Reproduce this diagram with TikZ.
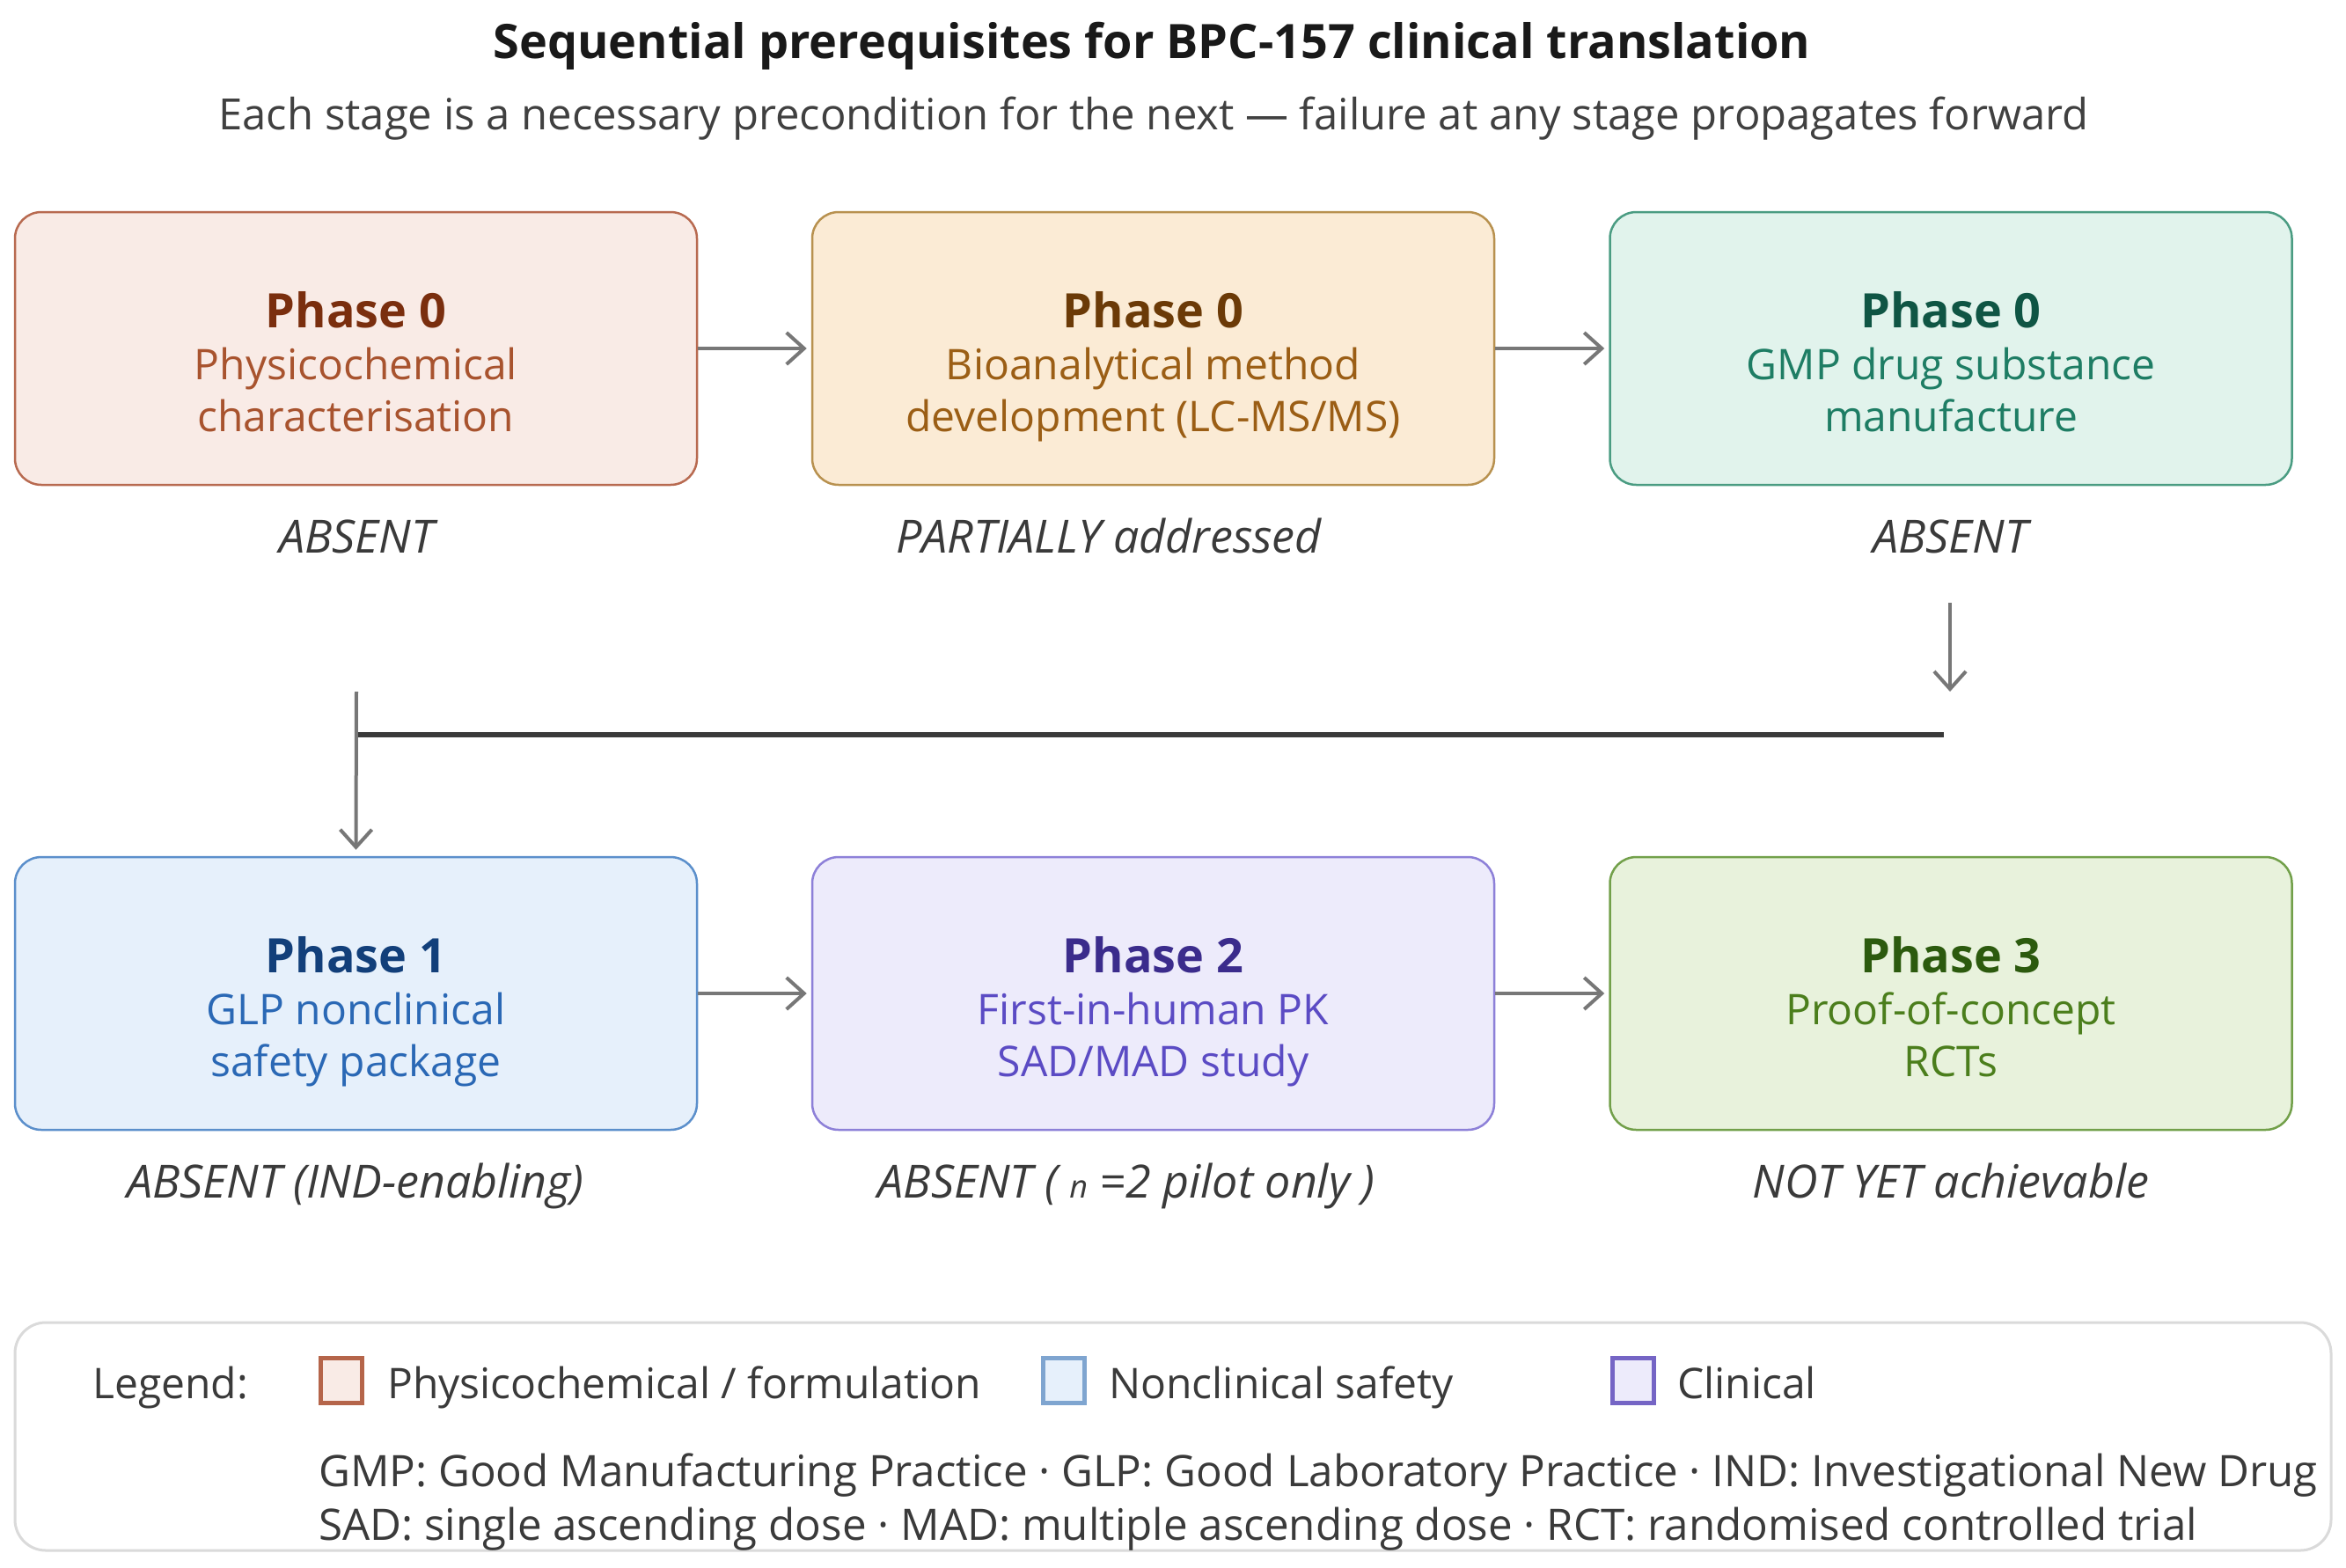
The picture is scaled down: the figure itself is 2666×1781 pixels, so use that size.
\documentclass[tikz,border=0pt]{standalone}
\usepackage{fontspec}
\setmainfont{Open Sans}
\usetikzlibrary{arrows.meta}
\definecolor{fA}{HTML}{F9EBE6}\definecolor{dA}{HTML}{B86A50}\definecolor{tA}{HTML}{7A2E0E}\definecolor{bA}{HTML}{A8532E}
\definecolor{fB}{HTML}{FBEBD5}\definecolor{dB}{HTML}{B8914F}\definecolor{tB}{HTML}{6B3A07}\definecolor{bB}{HTML}{9B5E15}
\definecolor{fC}{HTML}{E1F3EC}\definecolor{dC}{HTML}{4A9C82}\definecolor{tC}{HTML}{0F5544}\definecolor{bC}{HTML}{1E7D64}
\definecolor{fD}{HTML}{E6F0FB}\definecolor{dD}{HTML}{5B8FCB}\definecolor{tD}{HTML}{123F7A}\definecolor{bD}{HTML}{2A68B5}
\definecolor{fE}{HTML}{EDEBFB}\definecolor{dE}{HTML}{8D80D8}\definecolor{tE}{HTML}{3B2C8C}\definecolor{bE}{HTML}{5B4BC4}
\definecolor{fF}{HTML}{E8F2DC}\definecolor{dF}{HTML}{72A04A}\definecolor{tF}{HTML}{2C5A0E}\definecolor{bF}{HTML}{4B7E1C}
\definecolor{arrgray}{HTML}{777777}
\definecolor{linedark}{HTML}{3A3A3A}
\definecolor{stat}{HTML}{3A3A3A}
\definecolor{legborder}{HTML}{DADADA}
\definecolor{swA}{HTML}{B5654A}\definecolor{swB}{HTML}{7FA5D0}\definecolor{swC}{HTML}{7565C5}
\tikzset{
  phasebox/.style={draw, rounded corners=30pt, line width=2.5pt, minimum width=775pt, minimum height=310pt, inner sep=0pt},
  phasetext/.style={align=center, font=\fontsize{48}{59}\selectfont, inner sep=0pt, text depth=0pt},
  arr/.style={draw=arrgray, line width=4pt, -{Straight Barb[length=20pt,width=36pt,line width=4pt]}},
  status/.style={font=\fontsize{52}{60}\selectfont\itshape, text=stat, inner sep=0pt, anchor=base},
  legtext/.style={font=\fontsize{48}{58}\selectfont, text=stat, anchor=base west, inner sep=0pt},
  abbrtext/.style={font=\fontsize{49.3}{58}\selectfont, text=stat, anchor=base west, inner sep=0pt},
  swatch/.style={draw, line width=4.5pt, minimum width=47pt, minimum height=51pt, inner sep=0pt},
}
\newcommand{\ph}[1]{{\bfseries\fontsize{54}{59}\selectfont #1}}
\begin{document}
\begin{tikzpicture}[x=1pt,y=-1pt]
\useasboundingbox (0,0) rectangle (2666,1781);
\fill[white] (0,0) rectangle (2666,1781);
% title
\node[font=\fontsize{54}{64}\selectfont\bfseries, text=black!90, anchor=base] (title) at (1309,66) {Sequential prerequisites for BPC-157 clinical translation};
\node[font=\fontsize{49}{56}\selectfont, text=black!75, anchor=base] (subtitle) at (1311,147) {Each stage is a necessary precondition for the next — failure at any stage propagates forward};
% row 1 boxes
\node[phasebox, draw=dA, fill=fA] (b1) at (404.5,396) {};
\node[phasebox, draw=dB, fill=fB] (b2) at (1310.5,396) {};
\node[phasebox, draw=dC, fill=fC] (b3) at (2217,396) {};
\node[phasetext, text=bA] (b1t) at (404.5,411) {\textcolor{tA}{\ph{Phase 0}}\\Physicochemical\\characterisation};
\node[phasetext, text=bB] (b2t) at (1310.5,411) {\textcolor{tB}{\ph{Phase 0}}\\Bioanalytical method\\development (LC-MS/MS)};
\node[phasetext, text=bC] (b3t) at (2217,411) {\textcolor{tC}{\ph{Phase 0}}\\GMP drug substance\\manufacture};
% row 2 boxes
\node[phasebox, draw=dD, fill=fD] (b4) at (404.5,1129) {};
\node[phasebox, draw=dE, fill=fE] (b5) at (1310.5,1129) {};
\node[phasebox, draw=dF, fill=fF] (b6) at (2217,1129) {};
\node[phasetext, text=bD] (b4t) at (404.5,1144) {\textcolor{tD}{\ph{Phase 1}}\\GLP nonclinical\\safety package};
\node[phasetext, text=bE] (b5t) at (1310.5,1144) {\textcolor{tE}{\ph{Phase 2}}\\First-in-human PK\\SAD/MAD study};
\node[phasetext, text=bF] (b6t) at (2217,1144) {\textcolor{tF}{\ph{Phase 3}}\\Proof-of-concept\\RCTs};
% status labels
\node[status] (s1) at (405,628) {ABSENT};
\node[status] (s2) at (1260,628) {PARTIALLY addressed};
\node[status] (s3) at (2216,628) {ABSENT};
\node[status] (s4) at (404,1361) {ABSENT (IND-enabling)};
\node[status] (s5) at (1280,1361) {ABSENT ( {\fontsize{36}{40}\selectfont n} =2 pilot only )};
\node[status] (s6) at (2217,1361) {NOT YET achievable};
% horizontal arrows
\draw[arr, shorten >=5pt] (b1.east) -- (b2.west);
\draw[arr, shorten >=5pt] (b2.east) -- (b3.west);
\draw[arr, shorten >=5pt] (b4.east) -- (b5.west);
\draw[arr, shorten >=5pt] (b5.east) -- (b6.west);
% wrap-around connector
\coordinate (dtop) at (2216,685);
\coordinate (dbot) at (2216,786);
\coordinate (hleft) at (405,835);
\coordinate (hright) at (2209,835);
\coordinate (ltop) at (405,786);
\draw[arr] (dtop) -- (dbot);
\draw[draw=linedark, line width=6pt] (hleft) -- (hright);
\draw[arr, shorten >=7pt] (ltop) -- (b4.north);
% legend
\node[draw=legborder, line width=3pt, fill=white, rounded corners=35pt, minimum width=2632pt, minimum height=259pt, inner sep=0pt] (legend) at (1333,1632.5) {};
\node[legtext] (legtitle) at (105,1589) {Legend:};
\node[swatch, draw=swA, fill=fA] (sw1) at (388,1569) {};
\node[legtext] (lg1) at (440,1589) {Physicochemical / formulation};
\node[swatch, draw=swB, fill=fD] (sw2) at (1209,1569) {};
\node[legtext] (lg2) at (1260,1589) {Nonclinical safety};
\node[swatch, draw=swC, fill=fE] (sw3) at (1856,1569) {};
\node[legtext] (lg3) at (1906,1589) {Clinical};
\node[abbrtext] (ab1) at (362,1689) {GMP: Good Manufacturing Practice · GLP: Good Laboratory Practice · IND: Investigational New Drug};
\node[abbrtext] (ab2) at (362,1750) {SAD: single ascending dose · MAD: multiple ascending dose · RCT: randomised controlled trial};
\end{tikzpicture}
\end{document}
